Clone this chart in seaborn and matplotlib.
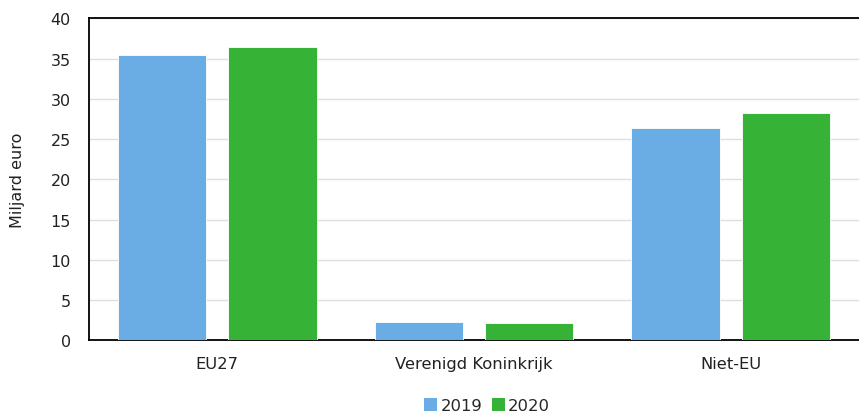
import matplotlib
matplotlib.use("Agg")
import matplotlib.pyplot as plt
import seaborn as sns
import pandas as pd
from matplotlib.patches import Patch

categories = ["EU27", "Verenigd Koninkrijk", "Niet-EU"]
years = ["2019", "2020"]
values_2019 = [35.44, 2.24, 26.37]
values_2020 = [36.47, 2.19, 28.24]
yticks = [0, 5, 10, 15, 20, 25, 30, 35, 40]

df = pd.DataFrame({
    "categorie": categories * 2,
    "jaar": [years[0]] * 3 + [years[1]] * 3,
    "waarde": values_2019 + values_2020,
})

sns.set_theme(style="white")
plt.rcParams["font.family"] = ["DejaVu Sans"]

colors = {"2019": "#6AACE4", "2020": "#36B236"}

fig = plt.figure(figsize=(8.59, 4.14), dpi=100)
ax = fig.add_axes([0.1036, 0.1756, 0.8964, 0.7778])

sns.barplot(data=df, x="categorie", y="waarde", hue="jaar", order=categories,
            hue_order=years, palette=colors, saturation=1, width=0.86, gap=0.2,
            edgecolor="white", linewidth=0.6, ax=ax, legend=False, zorder=3)

ax.set_ylim(0, 40)
ax.set_yticks(yticks)
ax.set_yticklabels([str(t) for t in yticks], fontsize=11.5, color="#222222")
ax.yaxis.grid(True, color="#E0E0E0", linewidth=1.0, zorder=0)
ax.set_axisbelow(True)
ax.tick_params(axis="y", length=0, pad=13)
ax.tick_params(axis="x", length=0, pad=11, labelsize=11.8, labelcolor="#222222")
ax.set_xlabel("")
ax.set_ylabel("Miljard euro", fontsize=11.5, color="#222222")
ax.yaxis.set_label_coords(-0.083, 0.5)
ax.set_xlim(-0.5, 2.5)

for side in ["left", "bottom", "top"]:
    ax.spines[side].set_visible(True)
    ax.spines[side].set_color("black")
    ax.spines[side].set_linewidth(1.3)
ax.spines["right"].set_visible(False)

handles = [Patch(facecolor=colors[y], edgecolor="none") for y in years]
fig.legend(handles, years, loc="center", bbox_to_anchor=(0.567, 0.017),
           ncol=2, frameon=False, fontsize=11.8, handlelength=0.8,
           handleheight=0.8, handletextpad=0.2, columnspacing=0.6)

fig.savefig("out.png", dpi=100)
